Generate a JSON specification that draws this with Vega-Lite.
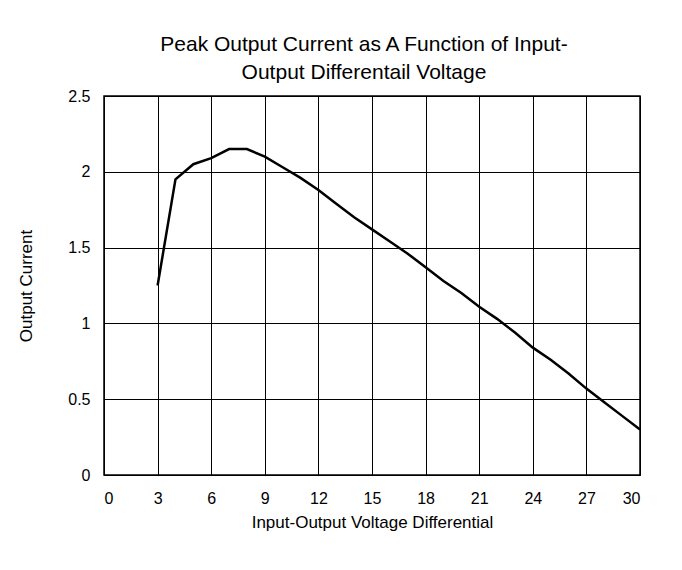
{
  "$schema": "https://vega.github.io/schema/vega-lite/v6.json",
  "width": 536,
  "height": 379,
  "autosize": "none",
  "padding": {"left": 104, "top": 96, "right": 42, "bottom": 95},
  "background": "white",
  "title": {
    "text": ["Peak Output Current as A Function of Input-", "Output Differentail Voltage"],
    "font": "Liberation Sans",
    "fontSize": 21,
    "fontWeight": "normal",
    "color": "black",
    "anchor": "middle",
    "frame": "group",
    "lineHeight": 28,
    "offset": 5,
    "dx": -8
  },
  "config": {
    "view": {"stroke": "black", "strokeWidth": 1.5},
    "axis": {
      "labelFont": "Liberation Sans",
      "titleFont": "Liberation Sans",
      "labelFontSize": 16,
      "titleFontSize": 17,
      "titleFontWeight": "normal",
      "labelColor": "black",
      "titleColor": "black",
      "gridColor": "black",
      "gridOpacity": 1,
      "gridWidth": 1,
      "domain": false,
      "ticks": false,
      "format": "~g"
    }
  },
  "data": {
    "values": [
      {"v": 3, "i": 1.25},
      {"v": 4, "i": 1.95},
      {"v": 5, "i": 2.05},
      {"v": 6, "i": 2.09},
      {"v": 7, "i": 2.15},
      {"v": 8, "i": 2.15},
      {"v": 9, "i": 2.1},
      {"v": 10, "i": 2.03},
      {"v": 11, "i": 1.96},
      {"v": 12, "i": 1.88},
      {"v": 13, "i": 1.79},
      {"v": 14, "i": 1.7},
      {"v": 15, "i": 1.62},
      {"v": 16, "i": 1.54},
      {"v": 17, "i": 1.46},
      {"v": 18, "i": 1.37},
      {"v": 19, "i": 1.28},
      {"v": 20, "i": 1.2},
      {"v": 21, "i": 1.11},
      {"v": 22, "i": 1.03},
      {"v": 23, "i": 0.94},
      {"v": 24, "i": 0.84},
      {"v": 25, "i": 0.76},
      {"v": 26, "i": 0.67},
      {"v": 27, "i": 0.57},
      {"v": 28, "i": 0.48},
      {"v": 29, "i": 0.39},
      {"v": 30, "i": 0.3}
    ]
  },
  "mark": {"type": "line", "color": "black", "strokeWidth": 2.5},
  "encoding": {
    "x": {
      "field": "v",
      "type": "quantitative",
      "scale": {"domain": [0, 30], "nice": false},
      "axis": {"values": [0, 3, 6, 9, 12, 15, 18, 21, 24, 27, 30], "title": "Input-Output Voltage Differential", "labelPadding": 15, "titlePadding": 8}
    },
    "y": {
      "field": "i",
      "type": "quantitative",
      "scale": {"domain": [0, 2.5], "nice": false},
      "axis": {"values": [0, 0.5, 1, 1.5, 2, 2.5], "title": "Output Current", "labelPadding": 14, "titlePadding": 32}
    }
  }
}
